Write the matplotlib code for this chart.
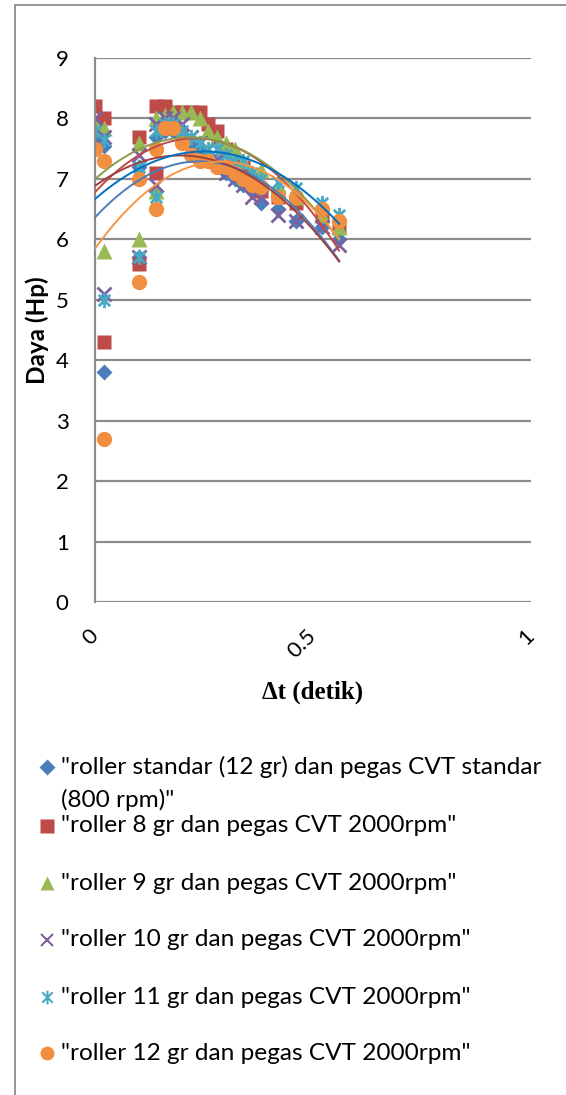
import matplotlib
matplotlib.use("Agg")
import matplotlib.pyplot as plt
import numpy as np
from matplotlib.lines import Line2D
from matplotlib.patches import Rectangle
from matplotlib.path import Path

# waktu (detik) untuk tiap titik pengukuran
dt = [0, 0.02, 0.02, 0.1, 0.1, 0.14, 0.14, 0.16, 0.18, 0.2, 0.22, 0.24,
      0.26, 0.28, 0.3, 0.32, 0.34, 0.36, 0.38, 0.42, 0.46, 0.52, 0.56]

# daya (Hp) per variasi roller / pegas
daya_standar = [7.7, 7.55, 3.8, 7.2, 5.7, 6.8, 7.7, 7.8, 7.8, 7.7, 7.6, 7.5,
                7.4, 7.3, 7.1, 7.0, 6.9, 6.8, 6.6, 6.5, 6.3, 6.2, 6.0]
daya_r8 = [8.2, 8.0, 4.3, 7.7, 5.6, 7.1, 8.2, 8.2, 8.1, 8.1, 8.1, 8.1,
           7.9, 7.8, 7.5, 7.3, 7.2, 7.0, 6.8, 6.7, 6.6, 6.4, 6.2]
daya_r9 = [7.9, 7.85, 5.8, 7.6, 6.0, 6.8, 8.0, 8.05, 8.1, 8.1, 8.1, 8.0,
           7.8, 7.7, 7.6, 7.5, 7.3, 7.1, 7.15, 6.9, 6.7, 6.4, 6.2]
daya_r10 = [8.0, 7.7, 5.1, 7.4, 5.7, 6.9, 7.9, 8.0, 8.0, 7.9, 7.7, 7.6,
            7.5, 7.3, 7.1, 7.0, 6.9, 6.7, 6.7, 6.4, 6.3, 6.2, 5.9]
daya_r11 = [7.8, 7.65, 5.0, 7.2, 5.7, 6.7, 7.8, 7.9, 7.9, 7.8, 7.7, 7.6,
            7.5, 7.5, 7.4, 7.3, 7.3, 7.1, 7.0, 6.95, 6.85, 6.6, 6.4]
daya_r12 = [7.5, 7.3, 2.7, 7.0, 5.3, 6.5, 7.5, 7.85, 7.85, 7.6, 7.4, 7.3,
            7.3, 7.2, 7.2, 7.1, 7.0, 6.9, 6.87, 6.7, 6.7, 6.5, 6.3]

labels = [
    '"roller standar (12 gr) dan pegas CVT standar\n(800 rpm)"',
    '"roller 8 gr dan pegas CVT 2000rpm"',
    '"roller 9 gr dan pegas CVT 2000rpm"',
    '"roller 10 gr dan pegas CVT 2000rpm"',
    '"roller 11 gr dan pegas CVT 2000rpm"',
    '"roller 12 gr dan pegas CVT 2000rpm"',
]
series = [daya_standar, daya_r8, daya_r9, daya_r10, daya_r11, daya_r12]

# asterisk marker: garis tegak + silang
asterisk = Path([(0, -1), (0, 1), (-0.75, -0.75), (0.75, 0.75), (-0.75, 0.75), (0.75, -0.75)],
                [Path.MOVETO, Path.LINETO] * 3)

styles = [
    dict(marker="D", color="#4A7EBB", ms=8.5, mec="none"),
    dict(marker="s", color="#BE4B48", ms=10.5, mec="none"),
    dict(marker="^", color="#98B954", ms=11, mec="none"),
    dict(marker="x", color="#7D60A0", ms=10, mew=2),
    dict(marker=asterisk, color="#46AAC5", ms=11, mew=2),
    dict(marker="o", color="#F28E3F", ms=11, mec="none"),
]
trend_colors = ["#4A7EBB", "#BE4B48", "#8E9A4E", "#A0403C", "#0070C0", "#F79646"]

W, H = 566, 1095
fig = plt.figure(figsize=(W / 100, H / 100), dpi=100, facecolor="white")
sans = ["Lato", "DejaVu Sans"]

# bingkai chart
fig.add_artist(Rectangle((15 / W, -0.1), 1.2, 1 - 5 / H + 0.1, transform=fig.transFigure,
                         fill=False, ec="#8C8C8C", lw=1.3, clip_on=False))

ax = fig.add_axes([95 / W, 1 - 602 / H, 436 / W, 544 / H])
ax.set_xlim(0, 1)
ax.set_ylim(0, 9)
for sp in ["top", "right", "bottom"]:
    ax.spines[sp].set_visible(False)
ax.spines["left"].set_color("#8C8C8C")
ax.spines["left"].set_linewidth(1.6)
ax.set_yticks(range(0, 10))
ax.yaxis.grid(True, color="#8C8C8C", lw=1.6)
ax.set_axisbelow(True)
ax.tick_params(axis="both", length=0)
ax.tick_params(axis="y", pad=19)
ax.tick_params(axis="x", pad=22)
ax.set_xticks([0, 0.5, 1])
ax.set_xticklabels(["0", "0.5", "1"], rotation=45, ha="right", va="center",
                   rotation_mode="anchor")
for t in ax.get_xticklabels() + ax.get_yticklabels():
    t.set_family(sans)
    t.set_fontsize(16)

x = np.array(dt)
for y, st in zip(series, styles):
    ax.plot(x, y, ls="none", zorder=2, **st)

# trendline polinomial orde 2
xs = np.linspace(0, max(dt), 200)
for y, c in zip(series, trend_colors):
    coef = np.polyfit(x, np.array(y), 2)
    ax.plot(xs, np.polyval(coef, xs), color=c, lw=1.4, zorder=3)

fig.text(37 / W, 1 - 330 / H, "Daya (Hp)", rotation=90, ha="center", va="center",
         family=sans, fontweight="bold", fontsize=17.5)
fig.text(313 / W, 1 - 692 / H, "\u0394t (detik)", ha="center", va="center",
         family=["Liberation Serif", "DejaVu Serif"], fontweight="bold", fontsize=18)

# legenda di bawah plot
leg_y = [767, 826, 883, 940, 997, 1053]
leg_ms = [8, 9.5, 10, 9, 10, 10]
for i, (lab, st, y0) in enumerate(zip(labels, styles, leg_y)):
    st2 = dict(st)
    st2["ms"] = leg_ms[i]
    if "mew" in st2:
        st2["mew"] = 1.5
    fig.add_artist(Line2D([47 / W], [1 - y0 / H], transform=fig.transFigure, ls="none", **st2))
    for j, line in enumerate(lab.split("\n")):
        fig.text(61 / W, 1 - (y0 + 33 * j) / H, line, ha="left", va="center",
                 family=sans, fontsize=17.6)

fig.savefig("out.png", dpi=100, facecolor="white")
